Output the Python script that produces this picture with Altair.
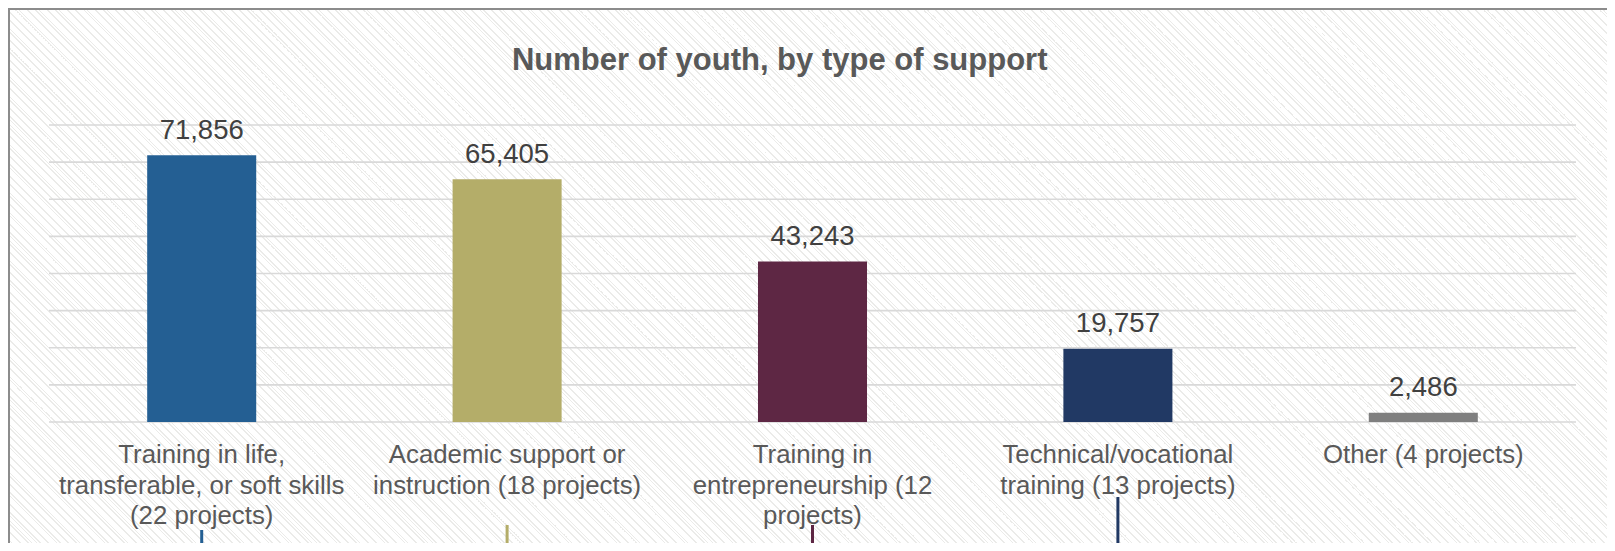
import altair as alt
import pandas as pd

# ---- data ----
categories = [
    "Training in life,|transferable, or soft skills|(22 projects)",
    "Academic support or|instruction (18 projects)",
    "Training in|entrepreneurship (12|projects)",
    "Technical/vocational|training (13 projects)",
    "Other (4 projects)",
]
youth = [71856, 65405, 43243, 19757, 2486]
bar_colors = ["#245f93", "#b4ad69", "#5e2744", "#213964", "#7f7f7f"]
y_ticks = [0, 10000, 20000, 30000, 40000, 50000, 60000, 70000, 80000]
title_text = ["Number of youth, by type of support"]

# ---- layout / style ----
W, H = 1527, 297
PAD = {"left": 41, "top": 117, "right": 31, "bottom": 121}
TOTAL_W = W + PAD["left"] + PAD["right"]
TOTAL_H = H + PAD["top"] + PAD["bottom"]
leader_tops = [405, 400, 400, 372]  # pixel offsets of the cut-off leader lines
LABEL_FONT = "Liberation Sans"

# hatch background made of a hard-stop linear gradient (45 deg, "\\" stripes)
period_px, line_px = 4.0, 1.0
span = TOTAL_W + TOTAL_H
k = span / (TOTAL_W * (1 + (TOTAL_H / TOTAL_W) ** 2))
stops = []
n = int(span / period_px) + 1
for i in range(n):
    a = i * period_px / span
    b = (i * period_px + line_px) / span
    c = (i + 1) * period_px / span
    if a > 1:
        break
    stops += [
        {"offset": round(a, 6), "color": "#ebebe9"},
        {"offset": round(min(b, 1), 6), "color": "#ebebe9"},
        {"offset": round(min(b, 1), 6), "color": "#ffffff"},
        {"offset": round(min(c, 1), 6), "color": "#ffffff"},
    ]
hatch = {
    "gradient": "linear",
    "x1": 0, "y1": 1,
    "x2": k, "y2": 1 - k * TOTAL_H / TOTAL_W,
    "stops": stops,
}

df = pd.DataFrame({"cat": categories, "youth": youth})
lead_df = pd.DataFrame({"cat": categories[:4], "top": leader_tops})
grid_df = pd.DataFrame({"v": y_ticks})
title_df = pd.DataFrame({"t": title_text})

x_enc = alt.X(
    "cat:N",
    sort=categories,
    scale=alt.Scale(paddingInner=0.643, paddingOuter=0.3215),
    axis=alt.Axis(
        title=None, labelAngle=0, ticks=False, domain=False, grid=False,
        labelExpr="split(datum.label, '|')", labelFont=LABEL_FONT,
        labelFontSize=25.8, labelColor="#595959", labelLineHeight=30.5,
        labelPadding=20.5, labelBaseline="top", labelLimit=400, zindex=1,
    ),
)
y_scale = alt.Scale(domain=[0, 80000])
color_enc = alt.Color("cat:N", scale=alt.Scale(domain=categories, range=bar_colors), legend=None)

one = alt.Data(values=[{"a": 1}])

bg = alt.Chart(one).mark_rect(fill=hatch, stroke=None).encode(
    x=alt.value(-PAD["left"]), x2=alt.value(W + PAD["right"]),
    y=alt.value(-PAD["top"]), y2=alt.value(H + PAD["bottom"]),
)

title = alt.Chart(title_df).mark_text(
    font=LABEL_FONT, fontSize=31, fontWeight="bold", color="#595959",
    baseline="alphabetic", align="center",
).encode(text="t:N", x=alt.value(730.7), y=alt.value(-55))

grid = alt.Chart(grid_df).mark_rule(color="#d9d9d9", strokeWidth=1.6).encode(
    y=alt.Y("v:Q", scale=y_scale, axis=None),
    x=alt.value(0), x2=alt.value(W),
)

bars = alt.Chart(df).mark_bar().encode(
    x=x_enc,
    y=alt.Y("youth:Q", scale=y_scale, axis=None),
    color=color_enc,
)

labels = alt.Chart(df).mark_text(
    dy=-16.5, baseline="alphabetic", font=LABEL_FONT, fontSize=27.5, color="#404040"
).encode(
    x=alt.X("cat:N", sort=categories),
    y=alt.Y("youth:Q", scale=y_scale),
    text=alt.Text("youth:Q", format=","),
)

leaders = alt.Chart(lead_df).mark_rule(strokeWidth=3).encode(
    x=alt.X("cat:N", sort=categories),
    y=alt.Y("top:Q", scale=None),
    y2=alt.value(H + PAD["bottom"] + 5),
    color=color_enc,
)

border = alt.Chart(one).mark_rect(fillOpacity=0, stroke="#8c8c8c", strokeWidth=2).encode(
    x=alt.value(-PAD["left"] + 1), x2=alt.value(W + PAD["right"] + 50),
    y=alt.value(-PAD["top"] + 1), y2=alt.value(H + PAD["bottom"] + 50),
)

chart = alt.layer(bg, title, grid, bars, labels, leaders, border).properties(
    width=W,
    height=H,
    padding=PAD,
    autosize=alt.AutoSizeParams(type="none"),
    background="white",
).configure_view(stroke=None)

chart.save("out.html", embed_options={"renderer": "svg", "actions": False})
